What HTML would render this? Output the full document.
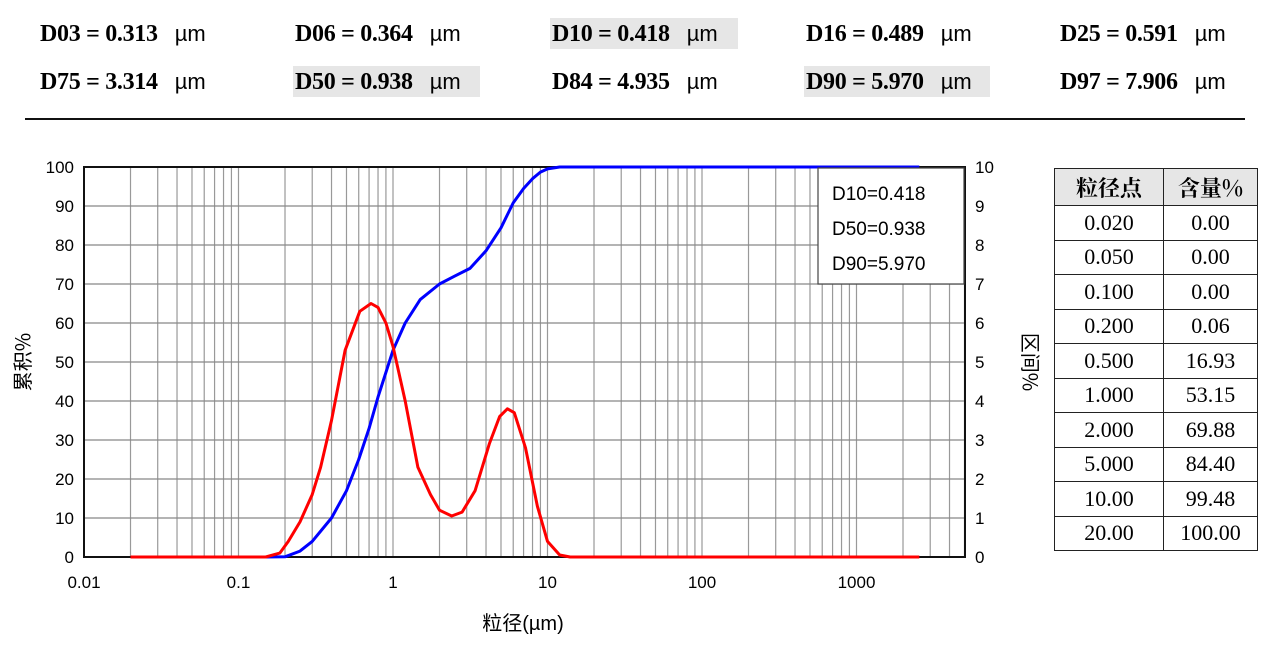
<!DOCTYPE html>
<html><head><meta charset="utf-8"><style>
body{margin:0;width:1266px;height:645px;background:#fff;overflow:hidden;position:relative;font-family:"Liberation Sans","Noto Sans CJK SC",sans-serif}
.d{position:absolute;font-family:"Liberation Serif","Noto Serif CJK SC",serif;font-weight:bold;font-size:24px;height:31px;line-height:31px;padding-left:2px;letter-spacing:-0.3px}
.d .u{font-family:"Liberation Sans",sans-serif;font-weight:normal;font-size:22px;margin-left:17px;letter-spacing:0}
.hl{background:#e6e6e6}
table{position:absolute;left:1054px;top:168px;border-collapse:collapse;font-family:"Liberation Serif","Noto Serif CJK SC",serif;font-size:22px}
td{border:1.5px solid #222;height:33.5px;text-align:center;padding:0}
</style></head><body>
<div class="d" style="left:38px;top:18px">D03 = 0.313<span class="u">µm</span></div>
<div class="d" style="left:293px;top:18px">D06 = 0.364<span class="u">µm</span></div>
<div class="d hl" style="left:550px;top:18px;width:186px">D10 = 0.418<span class="u">µm</span></div>
<div class="d" style="left:804px;top:18px">D16 = 0.489<span class="u">µm</span></div>
<div class="d" style="left:1058px;top:18px">D25 = 0.591<span class="u">µm</span></div>
<div class="d" style="left:38px;top:66px">D75 = 3.314<span class="u">µm</span></div>
<div class="d hl" style="left:293px;top:66px;width:185px">D50 = 0.938<span class="u">µm</span></div>
<div class="d" style="left:550px;top:66px">D84 = 4.935<span class="u">µm</span></div>
<div class="d hl" style="left:804px;top:66px;width:184px">D90 = 5.970<span class="u">µm</span></div>
<div class="d" style="left:1058px;top:66px">D97 = 7.906<span class="u">µm</span></div>
<div style="position:absolute;left:25px;top:118px;width:1220px;height:2px;background:#111"></div>

<svg id="chart" width="1266" height="645" style="position:absolute;left:0;top:0"></svg>

<table>
<tr style="background:#e6e6e6;font-weight:bold;font-family:'Noto Serif CJK SC',serif"><td style="width:108px;height:36px">粒径点</td><td style="width:93px">含量%</td></tr>
<tr><td>0.020</td><td>0.00</td></tr>
<tr><td>0.050</td><td>0.00</td></tr>
<tr><td>0.100</td><td>0.00</td></tr>
<tr><td>0.200</td><td>0.06</td></tr>
<tr><td>0.500</td><td>16.93</td></tr>
<tr><td>1.000</td><td>53.15</td></tr>
<tr><td>2.000</td><td>69.88</td></tr>
<tr><td>5.000</td><td>84.40</td></tr>
<tr><td>10.00</td><td>99.48</td></tr>
<tr><td>20.00</td><td>100.00</td></tr>
</table>

<script>
const cumSizes=[0.02,0.15,0.2,0.25,0.3,0.4,0.5,0.6,0.7,0.8,1,1.2,1.5,2,2.5,3.15,4,5,6,7,8,9,10,12,15,2550];
const cumValues=[0,0,0.06,1.5,4,10,17,25,33,41,53,60,66,70,72,74,78.5,84.4,90.8,94.5,97,98.7,99.5,100,100,100];
const intSizes=[0.02,0.15,0.185,0.21,0.25,0.3,0.34,0.4,0.49,0.61,0.72,0.8,0.9,1.0,1.2,1.45,1.75,2.0,2.4,2.8,3.4,4.2,4.9,5.5,6.1,7.2,8.6,10,12,14,2550];
const intValues=[0,0,0.1,0.4,0.9,1.6,2.3,3.5,5.3,6.3,6.5,6.4,6.0,5.4,4.0,2.3,1.6,1.2,1.05,1.15,1.7,2.9,3.6,3.8,3.7,2.8,1.3,0.4,0.05,0,0];
const xTicks=["0.01","0.1","1","10","100","1000"];
const yLeftTicks=[0,10,20,30,40,50,60,70,80,90,100];
const yRightTicks=[0,1,2,3,4,5,6,7,8,9,10];
const L=84,R=965,T=167,B=557,DEC=154.5;
const X=s=>L+(Math.log10(s)+2)*DEC;
const YL=v=>B-(v/100)*(B-T);
const YR=v=>B-(v/10)*(B-T);
const svg=document.getElementById('chart');
const NS='http://www.w3.org/2000/svg';
function mk(t,a){const e=document.createElementNS(NS,t);for(const k in a)e.setAttribute(k,a[k]);svg.appendChild(e);return e;}
for(let d=-2;d<=3;d++){for(let m=1;m<=9;m++){const s=m*Math.pow(10,d);if(s<=0.01||X(s)>=R)continue;
const g=mk('line',{x1:X(s),x2:X(s),y1:T,y2:B,stroke:'#999','stroke-width':1.2});

}}
yLeftTicks.forEach(v=>{
const g=mk('line',{x1:L,x2:R,y1:YL(v),y2:YL(v),stroke:'#888','stroke-width':1.2});


const t=mk('text',{x:L-10,y:YL(v)+6,'text-anchor':'end','font-size':17,fill:'#000'});t.textContent=v;

});
yRightTicks.forEach(v=>{const t=mk('text',{x:R+10,y:YR(v)+6,'font-size':17,fill:'#000'});t.textContent=v;

});
xTicks.forEach(v=>{const t=mk('text',{x:X(+v),y:B+31,'text-anchor':'middle','font-size':17,fill:'#000'});t.textContent=v;

});
const fr=mk('rect',{x:L,y:T,width:R-L,height:B-T,fill:'none',stroke:'#111','stroke-width':2});


const pts=(sz,vals,f)=>sz.map((s,i)=>X(s).toFixed(1)+','+f(vals[i]).toFixed(1)).join(' ');
const cl=mk('polyline',{points:pts(cumSizes,cumValues,YL),fill:'none',stroke:'#0000ff','stroke-width':3,'stroke-linejoin':'round'});


const il=mk('polyline',{points:pts(intSizes,intValues,YR),fill:'none',stroke:'#ff0000','stroke-width':3,'stroke-linejoin':'round'});


const lg=mk('rect',{x:818,y:168,width:146,height:116,fill:'#fff',stroke:'#444','stroke-width':1.2});


["D10=0.418","D50=0.938","D90=5.970"].forEach((s,i)=>{const t=mk('text',{x:832,y:200+i*35,'font-size':19,fill:'#000'});t.textContent=s;

});
const xt=mk('text',{x:523,y:630,'text-anchor':'middle','font-size':20,fill:'#000','font-family':'"Liberation Sans","Noto Sans CJK SC",sans-serif'});xt.textContent='粒径(µm)';


const yt=mk('text',{x:0,y:0,'text-anchor':'middle','font-size':20,fill:'#000',transform:'translate(30,362) rotate(-90)','font-family':'"Noto Sans CJK SC",sans-serif'});yt.textContent='累积%';


const yr=mk('text',{x:0,y:0,'text-anchor':'middle','font-size':20,fill:'#000',transform:'translate(1023,362) rotate(90)','font-family':'"Noto Sans CJK SC",sans-serif'});yr.textContent='区间%';


</script>
</body></html>
